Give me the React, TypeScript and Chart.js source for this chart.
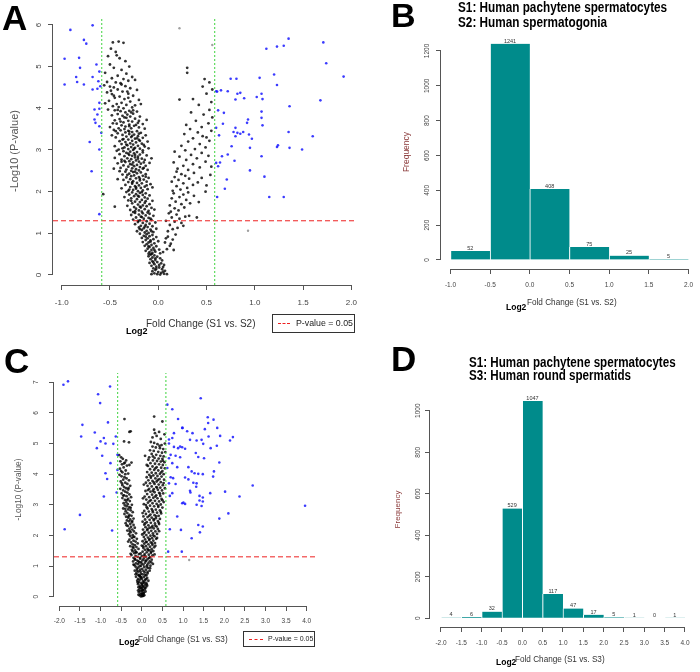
import React, { useEffect, useRef } from "react";
import { Chart, registerables } from "chart.js";
Chart.register(...registerables);

const FONT = '"Liberation Sans", Arial, Helvetica, sans-serif';
const AXIS = "#555555";
const TICK_COL = "#444444";
const TEAL = "#008b8b";
const SIG_BLUE = "rgba(25,25,255,0.85)";
const CORE_BLACK = "rgba(0,0,0,0.8)";
const FAINT = "rgba(120,120,120,0.7)";
const GREEN = "#3fd43f";
const RED = "#ee2020";

// thresholds: log2(1.5) and -log10(0.05)
const FC_CUT = 0.585;
const P_CUT = 1.301;

// ---------- Panel A : volcano S1 vs S2 ----------
const A_X_TICKS = [-1, -0.5, 0, 0.5, 1, 1.5, 2];
const A_Y_TICKS = [0, 1, 2, 3, 4, 5, 6];
const A_SIG: number[][] = [
  [-0.91,5.88],[-0.68,5.99],[-0.77,5.64],[-0.745,5.55],[-0.97,5.19],[-0.82,5.21],[-0.81,4.97],[-0.64,5.05],[-0.61,4.88],[-0.85,4.75],
  [-0.68,4.75],[-0.97,4.57],[-0.84,4.63],[-0.77,4.57],[-0.62,4.65],[-0.68,4.45],[-0.63,4.47],[-0.6,4.53],[-0.61,4.13],[-0.66,3.97],
  [-0.61,3.99],[-0.63,3.85],[-0.66,3.73],[-0.65,3.65],[-0.61,3.57],[-0.59,3.41],[-0.71,3.19],[-0.61,3.01],[-0.69,2.49],[-0.61,1.46],
  [1.35,5.67],[1.23,5.48],[1.3,5.5],[1.12,5.43],[1.71,5.58],[1.74,5.08],[1.92,4.76],[1.05,4.73],[1.2,4.81],[1.23,4.56],
  [0.75,4.71],[0.81,4.71],[0.6,4.41],[0.65,4.43],[0.72,4.41],[0.82,4.35],[0.85,4.37],[0.8,4.21],[0.89,4.24],[1.02,4.27],
  [1.07,4.35],[1.08,4.22],[1.36,4.05],[1.68,4.19],[0.68,3.89],[1.07,3.92],[0.92,3.65],[0.93,3.73],[1.07,3.77],[1.08,3.59],
  [0.67,3.63],[0.6,3.53],[0.8,3.53],[0.78,3.43],[0.82,3.41],[0.85,3.39],[0.88,3.43],[0.94,3.37],[0.97,3.27],[0.8,3.33],
  [0.63,3.35],[1.35,3.43],[1.6,3.33],[1.24,3.11],[1.23,3.07],[1.36,3.05],[1.49,3.01],[0.95,3.05],[0.76,3.09],[0.72,2.89],
  [0.66,2.85],[0.79,2.74],[1.07,2.85],[0.6,2.69],[0.64,2.7],[0.62,2.61],[0.95,2.51],[1.1,2.36],[0.71,2.29],[0.69,2.07],
  [1.15,1.87],[1.3,1.87],[0.61,1.87],[0.61,4.4],[0.62,3.95]
];
const A_FAINT: number[][] = [[0.22,5.92],[0.56,5.52],[0.93,1.06]];
const A_CORE: number[][] = [
  [-0.47,5.58],[-0.41,5.6],[-0.36,5.57],[-0.49,5.43],[-0.44,5.35],[-0.52,5.25],[-0.43,5.27],[-0.4,5.2],[-0.34,5.13],
  [-0.3,5.0],[-0.5,5.05],[-0.46,4.97],[-0.38,4.92],[-0.55,4.85],[-0.33,4.83],[-0.42,4.78],[-0.27,4.75],[-0.48,4.72],[-0.36,4.7],
  [-0.31,4.66],[-0.53,4.63],[-0.44,4.62],[-0.24,4.68],[-0.39,4.6],
  [-0.56,4.55],[-0.5,4.52],[-0.46,4.5],[-0.34,4.53],[-0.29,4.48],[-0.42,4.45],[-0.22,4.44],[-0.37,4.4],[-0.53,4.38],[-0.48,4.34],
  [-0.31,4.35],[-0.26,4.3],[-0.4,4.28],[-0.45,4.25],[-0.35,4.22],[-0.2,4.2],[-0.51,4.18],[-0.29,4.16],[-0.38,4.13],[-0.43,4.1],
  [-0.33,4.08],[-0.24,4.07],[-0.47,4.05],[-0.27,4.02],[-0.36,4.0],[-0.41,4.03],[-0.55,4.12],[-0.31,4.25],[-0.49,4.42],[-0.18,4.1],
  [-0.52,3.97],[-0.45,3.95],[-0.39,3.93],[-0.3,3.94],[-0.22,3.92],[-0.34,3.9],[-0.26,3.87],[-0.42,3.86],[-0.48,3.83],[-0.37,3.82],
  [-0.29,3.8],[-0.19,3.8],[-0.33,3.77],[-0.24,3.75],[-0.4,3.74],[-0.45,3.71],[-0.31,3.7],[-0.27,3.68],[-0.36,3.66],[-0.21,3.65],
  [-0.43,3.63],[-0.16,3.62],[-0.3,3.61],[-0.38,3.59],[-0.25,3.58],[-0.34,3.56],[-0.5,3.55],[-0.2,3.54],[-0.28,3.52],[-0.41,3.52],
  [-0.14,3.51],[-0.35,3.5],[-0.23,3.6],[-0.32,3.85],[-0.47,3.64],[-0.26,3.95],[-0.12,3.72],[-0.39,3.68],
  [-0.46,3.48],[-0.39,3.47],[-0.31,3.46],[-0.22,3.45],[-0.27,3.43],[-0.34,3.42],[-0.18,3.41],[-0.42,3.4],[-0.3,3.38],[-0.25,3.37],
  [-0.37,3.36],[-0.13,3.35],[-0.21,3.33],[-0.33,3.32],[-0.28,3.31],[-0.44,3.3],[-0.16,3.29],[-0.24,3.27],[-0.36,3.26],[-0.31,3.25],
  [-0.2,3.24],[-0.27,3.22],[-0.4,3.21],[-0.11,3.2],[-0.34,3.19],[-0.23,3.18],[-0.29,3.16],[-0.17,3.15],[-0.38,3.14],[-0.26,3.13],
  [-0.32,3.11],[-0.21,3.1],[-0.45,3.09],[-0.14,3.08],[-0.28,3.07],[-0.35,3.06],[-0.24,3.05],[-0.19,3.03],[-0.31,3.02],[-0.41,3.01],
  [-0.26,3.0],[-0.1,3.04],[-0.48,3.35],[-0.22,3.28],[-0.3,3.44],[-0.15,3.12],[-0.37,3.04],[-0.2,3.39],
  [-0.43,2.98],[-0.36,2.97],[-0.29,2.96],[-0.22,2.95],[-0.16,2.94],[-0.33,2.93],[-0.25,2.92],[-0.4,2.9],[-0.19,2.89],[-0.3,2.88],
  [-0.12,2.87],[-0.27,2.86],[-0.35,2.85],[-0.21,2.84],[-0.24,2.82],[-0.45,2.81],[-0.32,2.8],[-0.17,2.79],[-0.28,2.78],[-0.38,2.77],
  [-0.14,2.76],[-0.23,2.75],[-0.3,2.73],[-0.2,2.72],[-0.34,2.71],[-0.26,2.7],[-0.09,2.69],[-0.42,2.68],[-0.18,2.67],[-0.29,2.66],
  [-0.22,2.64],[-0.36,2.63],[-0.13,2.62],[-0.25,2.61],[-0.31,2.6],[-0.19,2.59],[-0.39,2.57],[-0.27,2.56],[-0.16,2.55],[-0.23,2.54],
  [-0.33,2.53],[-0.11,2.52],[-0.2,2.51],[-0.28,2.5],[-0.46,2.55],[-0.07,2.8],[-0.35,2.74],[-0.24,2.88],[-0.15,2.7],
  [-0.4,2.49],[-0.34,2.48],[-0.26,2.47],[-0.18,2.46],[-0.22,2.44],[-0.3,2.43],[-0.13,2.42],[-0.37,2.41],[-0.25,2.39],[-0.16,2.38],
  [-0.28,2.37],[-0.2,2.35],[-0.33,2.34],[-0.1,2.33],[-0.23,2.32],[-0.29,2.3],[-0.15,2.29],[-0.36,2.28],[-0.19,2.27],[-0.26,2.25],
  [-0.12,2.24],[-0.31,2.23],[-0.22,2.21],[-0.17,2.2],[-0.27,2.19],[-0.08,2.18],[-0.34,2.16],[-0.2,2.15],[-0.24,2.13],[-0.14,2.12],
  [-0.29,2.11],[-0.18,2.09],[-0.38,2.08],[-0.23,2.07],[-0.11,2.06],[-0.26,2.04],[-0.16,2.03],[-0.31,2.02],[-0.21,2.01],[-0.06,2.1],
  [-0.42,2.3],[-0.13,2.36],
  [-0.33,1.99],[-0.27,1.98],[-0.19,1.97],[-0.13,1.96],[-0.23,1.94],[-0.3,1.93],[-0.16,1.92],[-0.09,1.91],[-0.25,1.89],[-0.2,1.88],
  [-0.35,1.87],[-0.14,1.86],[-0.28,1.84],[-0.11,1.83],[-0.22,1.82],[-0.17,1.8],[-0.31,1.79],[-0.06,1.78],[-0.24,1.76],[-0.19,1.75],
  [-0.14,1.73],[-0.27,1.72],[-0.09,1.7],[-0.21,1.69],[-0.16,1.67],[-0.32,1.66],[-0.12,1.65],[-0.25,1.63],[-0.18,1.62],[-0.07,1.61],
  [-0.23,1.59],[-0.14,1.58],[-0.29,1.56],[-0.2,1.55],[-0.1,1.54],[-0.17,1.52],[-0.26,1.51],[-0.04,1.57],[-0.45,1.64],[-0.57,1.94],
  [-0.24,1.49],[-0.16,1.48],[-0.09,1.47],[-0.2,1.45],[-0.28,1.44],[-0.13,1.43],[-0.05,1.42],[-0.18,1.4],[-0.23,1.38],[-0.1,1.37],
  [-0.15,1.35],[-0.26,1.33],[-0.07,1.32],[-0.19,1.31],[-0.12,1.29],[-0.21,1.27],[-0.03,1.26],[-0.16,1.25],[-0.09,1.23],[-0.24,1.22],
  [-0.13,1.2],[-0.18,1.18],[-0.06,1.17],[-0.11,1.15],[-0.2,1.14],[-0.15,1.12],[-0.02,1.11],[-0.08,1.09],[-0.17,1.08],[-0.12,1.06],
  [-0.22,1.05],[-0.05,1.03],[-0.14,1.02],[-0.1,1.01],
  [-0.19,0.99],[-0.12,0.98],[-0.06,0.96],[-0.15,0.94],[-0.09,0.93],[-0.02,0.91],[-0.17,0.89],[-0.11,0.88],[-0.05,0.86],[-0.13,0.84],
  [-0.08,0.83],[0.0,0.81],[-0.16,0.79],[-0.1,0.78],[-0.04,0.76],[-0.12,0.74],[-0.07,0.72],[-0.14,0.7],[-0.02,0.69],[-0.09,0.67],
  [-0.05,0.65],[-0.11,0.63],[0.01,0.61],[-0.07,0.6],[-0.13,0.58],[-0.03,0.56],[-0.09,0.55],[-0.06,0.53],[-0.1,0.51],[0.02,0.52],
  [-0.08,0.49],[-0.04,0.47],[-0.1,0.45],[-0.01,0.44],[-0.06,0.42],[0.02,0.4],[-0.08,0.38],[-0.03,0.36],[0.04,0.35],[-0.06,0.33],
  [-0.01,0.31],[-0.09,0.29],[0.03,0.28],[-0.04,0.26],[0.06,0.24],[-0.07,0.22],[-0.02,0.2],[0.01,0.18],[-0.05,0.16],[0.04,0.14],
  [-0.03,0.12],[0.07,0.1],[-0.06,0.09],[0.0,0.07],[0.03,0.05],[-0.04,0.04],[0.06,0.03],[-0.01,0.02],[0.02,0.01],[-0.07,0.02],
  [0.09,0.02],[0.05,0.08],
  [-0.27,3.34],[-0.19,3.22],[-0.33,3.13],[-0.25,3.03],[-0.16,2.99],[-0.31,2.91],[-0.21,2.79],[-0.38,2.72],[-0.27,2.65],[-0.15,2.57],
  [-0.24,2.48],[-0.32,2.4],[-0.19,2.31],[-0.27,2.22],[-0.12,2.15],[-0.23,2.1],[-0.3,2.05],[-0.17,1.99],[-0.21,1.9],[-0.28,1.78],
  [-0.13,1.77],[-0.19,1.64],[-0.24,1.53],[-0.11,1.5],[-0.17,1.39],[-0.21,1.3],[-0.08,1.35],[-0.14,1.16],[-0.19,1.1],[-0.07,1.05],
  [-0.13,0.92],[-0.08,0.8],[-0.1,0.69],[-0.04,0.6],[-0.07,0.5],[-0.03,0.4],[-0.05,0.3],[0.01,0.24],[-0.02,0.15],[0.05,0.19],
  [-0.35,3.78],[-0.42,3.96],[-0.28,3.9],[-0.46,4.3],[-0.32,4.4],[-0.38,4.57],[-0.44,3.45],[-0.2,3.7],[-0.3,3.57],[-0.37,3.25],
  [0.05,0.55],[0.09,0.62],[0.12,0.7],[0.07,0.78],[0.15,0.85],[0.1,0.92],[0.18,0.97],[0.13,0.75],[0.08,0.88],[0.16,0.6],
  [0.1,1.05],[0.15,1.1],[0.2,1.13],[0.12,1.2],[0.24,1.25],[0.17,1.28],[0.08,1.3],[0.22,1.35],[0.14,1.38],[0.28,1.4],
  [0.19,1.45],[0.11,1.48],[0.26,1.18],[0.32,1.42],[0.4,1.38],
  [0.13,1.52],[0.21,1.55],[0.17,1.6],[0.27,1.62],[0.12,1.67],[0.24,1.7],[0.33,1.72],[0.18,1.76],[0.29,1.8],[0.14,1.84],
  [0.22,1.87],[0.37,1.9],[0.26,1.93],[0.16,1.96],[0.31,1.98],[0.42,1.75],[0.49,2.0],
  [0.15,2.02],[0.23,2.05],[0.3,2.09],[0.19,2.13],[0.36,2.16],[0.26,2.2],[0.14,2.24],[0.41,2.22],[0.21,2.28],[0.32,2.31],
  [0.17,2.35],[0.28,2.38],[0.45,2.33],[0.24,2.42],[0.37,2.45],[0.19,2.48],[0.5,2.15],[0.54,2.4],
  [0.31,2.52],[0.2,2.55],[0.43,2.58],[0.26,2.62],[0.36,2.66],[0.16,2.7],[0.49,2.72],[0.29,2.76],[0.4,2.8],[0.22,2.84],
  [0.34,2.88],[0.52,2.86],[0.45,2.93],[0.17,2.96],[0.28,2.99],[0.55,2.6],
  [0.38,3.02],[0.49,3.06],[0.24,3.1],[0.43,3.14],[0.31,3.2],[0.53,3.22],[0.36,3.28],[0.46,3.33],[0.27,3.38],[0.41,3.42],
  [0.55,3.46],[0.33,3.5],[0.5,3.3],
  [0.45,3.55],[0.29,3.6],[0.52,3.64],[0.39,3.7],[0.56,3.78],[0.47,3.85],[0.34,3.9],[0.53,3.96],
  [0.42,4.08],[0.55,4.15],[0.36,4.22],[0.5,4.35],[0.46,4.52],[0.53,4.62],[0.48,4.7],[0.56,4.45],[0.3,4.97],[0.3,4.85],[0.22,4.21]
];

// ---------- Panel B : histogram S1 vs S2 ----------
const B_BIN_START = [-1.0, -0.5, 0.0, 0.5, 1.0, 1.5];
const B_COUNTS = [52, 1241, 408, 75, 25, 5];
const B_X_TICKS = [-1, -0.5, 0, 0.5, 1, 1.5, 2];
const B_Y_TICKS = [0, 200, 400, 600, 800, 1000, 1200];

// ---------- Panel C : volcano S1 vs S3 ----------
const C_X_TICKS = [-2, -1.5, -1, -0.5, 0, 0.5, 1, 1.5, 2, 2.5, 3, 3.5, 4];
const C_Y_TICKS = [0, 1, 2, 3, 4, 5, 6, 7];
const C_SIG: number[][] = [
  [-1.9,6.92],[-1.79,7.03],[-1.06,6.61],[-1.01,6.32],[-0.77,6.86],[-1.44,5.61],[-0.82,5.69],[-1.14,5.36],[-1.47,5.23],[-0.92,5.18],
  [-1.0,5.07],[-1.09,4.85],[-0.63,5.23],[-0.69,4.99],[-0.88,5.0],[-0.59,4.63],[-0.96,4.6],[-0.76,4.36],[-0.88,4.03],[-0.59,4.14],
  [-0.61,3.4],[-0.92,3.27],[-0.72,2.16],[-1.87,2.2],[-1.5,2.67],[-0.84,3.84],
  [0.62,6.27],[0.74,6.12],[0.88,5.8],[0.98,5.51],[0.78,5.34],[0.66,5.13],[0.74,5.18],[0.66,5.0],[0.78,4.89],[0.88,4.85],
  [0.98,4.88],[0.7,4.63],[0.82,4.6],[0.93,4.55],[0.66,4.52],[0.74,4.36],[0.62,4.2],[0.86,4.23],[0.7,3.9],[0.76,3.87],
  [0.66,3.7],[0.82,3.68],[0.74,3.38],[0.68,3.29],[0.98,3.05],[0.86,2.62],[0.68,2.2],[0.95,2.18],[0.64,1.47],
  [1.43,6.48],[1.6,5.86],[1.61,5.67],[1.74,5.78],[0.99,5.51],[1.1,5.4],[1.23,5.34],[1.53,5.47],[1.83,5.51],[2.21,5.21],
  [2.14,5.1],[1.9,5.25],[1.62,5.23],[1.45,5.12],[1.49,4.99],[1.17,5.12],[1.33,5.1],[1.82,4.93],[1.67,4.85],[0.93,4.9],
  [1.05,4.83],[1.31,4.69],[1.37,4.56],[1.51,4.52],[1.88,4.38],[1.13,4.23],[1.21,4.09],[1.28,4.03],[1.37,4.01],[1.48,4.0],
  [1.75,4.09],[1.73,3.92],[1.05,3.89],[1.13,3.83],[1.25,3.72],[1.33,3.7],[1.32,3.59],[1.17,3.46],[1.18,3.4],[1.66,3.38],
  [2.02,3.43],[2.69,3.63],[2.37,3.27],[1.4,3.29],[1.48,3.24],[1.4,3.14],[1.48,3.11],[1.01,3.07],[1.05,3.03],[1.33,3.0],
  [1.45,2.96],[3.96,2.97],[2.1,2.72],[1.88,2.55],[1.37,2.34],[1.48,2.29],[1.41,2.1],[1.21,1.91],[0.97,1.47]
];
const C_FAINT: number[][] = [[1.15,1.2]];
const C_CORE: number[][] = [
  [-0.42,5.8],[-0.27,5.4],[-0.43,5.07],[-0.31,5.04],[-0.3,5.38],
  [-0.55,4.62],[-0.5,4.55],[-0.46,4.5],[-0.52,4.42],[-0.41,4.38],[-0.48,4.32],[-0.36,4.28],[-0.44,4.22],[-0.53,4.18],[-0.39,4.12],
  [-0.47,4.06],[-0.33,4.02],[-0.43,4.35],[-0.38,4.45],[-0.3,4.3],[-0.25,4.38],
  [-0.54,3.98],[-0.49,3.93],[-0.42,3.9],[-0.37,3.86],[-0.45,3.82],[-0.31,3.8],[-0.51,3.76],[-0.4,3.72],[-0.35,3.68],[-0.47,3.64],
  [-0.28,3.62],[-0.43,3.58],[-0.38,3.54],[-0.52,3.52],[-0.33,3.5],
  [-0.45,3.47],[-0.4,3.43],[-0.35,3.4],[-0.49,3.37],[-0.3,3.34],[-0.43,3.31],[-0.37,3.28],[-0.26,3.25],[-0.47,3.22],[-0.33,3.19],
  [-0.41,3.16],[-0.29,3.12],[-0.38,3.08],[-0.44,3.05],[-0.34,3.02],[-0.24,3.0],
  [-0.41,2.98],[-0.36,2.95],[-0.3,2.92],[-0.45,2.88],[-0.33,2.85],[-0.27,2.82],[-0.39,2.79],[-0.22,2.76],[-0.35,2.73],[-0.42,2.7],
  [-0.3,2.67],[-0.25,2.64],[-0.38,2.61],[-0.33,2.58],[-0.2,2.55],[-0.28,2.52],
  [-0.36,2.49],[-0.31,2.46],[-0.24,2.43],[-0.39,2.4],[-0.28,2.37],[-0.2,2.34],[-0.34,2.31],[-0.26,2.28],[-0.17,2.25],[-0.3,2.22],
  [-0.23,2.19],[-0.35,2.16],[-0.19,2.13],[-0.27,2.1],[-0.14,2.07],[-0.31,2.04],[-0.22,2.01],
  [-0.28,1.98],[-0.18,1.95],[-0.24,1.92],[-0.12,1.89],[-0.3,1.86],[-0.2,1.83],[-0.15,1.8],[-0.26,1.77],[-0.1,1.74],[-0.22,1.71],
  [-0.17,1.68],[-0.28,1.65],[-0.13,1.62],[-0.2,1.59],[-0.08,1.56],[-0.24,1.53],[-0.16,1.51],
  [-0.22,1.48],[-0.13,1.45],[-0.18,1.42],[-0.07,1.39],[-0.25,1.36],[-0.15,1.33],[-0.1,1.3],[-0.2,1.27],[-0.04,1.24],[-0.16,1.21],
  [-0.11,1.18],[-0.21,1.15],[-0.06,1.12],[-0.14,1.09],[-0.09,1.06],[-0.18,1.03],[-0.02,1.01],
  [-0.15,0.98],[-0.09,0.95],[-0.12,0.91],[-0.04,0.88],[-0.17,0.85],[-0.08,0.82],[-0.13,0.78],[-0.02,0.75],[-0.1,0.72],[-0.06,0.68],
  [-0.14,0.65],[-0.03,0.62],[-0.09,0.58],[-0.05,0.55],[-0.11,0.52],
  [-0.07,0.48],[-0.02,0.45],[-0.09,0.41],[0.0,0.38],[-0.05,0.35],[-0.08,0.31],[-0.01,0.28],[-0.06,0.24],[0.02,0.21],[-0.04,0.18],
  [-0.07,0.14],[0.0,0.11],[-0.03,0.08],[0.03,0.06],[-0.05,0.04],[0.01,0.02],[-0.02,0.01],[0.04,0.03],[-0.08,0.06],
  [-0.5,4.1],[-0.4,4.0],[-0.48,3.7],[-0.32,3.55],[-0.45,3.3],[-0.36,3.15],[-0.27,2.9],[-0.4,2.87],[-0.32,2.62],[-0.23,2.47],
  [-0.37,2.33],[-0.29,2.14],[-0.2,1.95],[-0.33,1.8],[-0.22,1.62],[-0.14,1.45],[-0.27,1.4],[-0.17,1.23],[-0.08,1.15],[-0.2,1.05],
  [-0.11,0.85],[-0.06,0.7],[-0.15,0.73],[-0.1,0.46],[-0.04,0.3],[-0.09,0.2],
  [0.3,5.88],[0.5,5.72],[0.3,5.45],[0.32,5.34],[0.26,5.2],[0.36,5.25],[0.46,5.15],[0.55,5.3],[0.42,5.38],
  [0.22,5.05],[0.3,5.02],[0.38,4.98],[0.48,4.95],[0.56,5.0],[0.26,4.9],[0.34,4.87],[0.44,4.85],[0.52,4.82],[0.2,4.78],
  [0.29,4.76],[0.4,4.73],[0.49,4.7],[0.57,4.72],[0.24,4.66],[0.35,4.63],[0.45,4.6],[0.53,4.58],[0.18,4.55],[0.31,4.53],
  [0.41,4.51],[0.5,4.5],
  [0.16,4.47],[0.27,4.45],[0.37,4.43],[0.46,4.41],[0.55,4.39],[0.21,4.36],[0.32,4.34],[0.42,4.32],[0.51,4.3],[0.15,4.27],
  [0.26,4.25],[0.36,4.23],[0.47,4.21],[0.56,4.19],[0.2,4.16],[0.3,4.14],[0.4,4.12],[0.5,4.1],[0.13,4.07],[0.24,4.05],
  [0.34,4.03],[0.44,4.01],[0.53,4.0],
  [0.18,3.98],[0.28,3.96],[0.38,3.94],[0.48,3.92],[0.12,3.9],[0.22,3.88],[0.33,3.86],[0.43,3.84],[0.54,3.82],[0.16,3.8],
  [0.26,3.78],[0.36,3.76],[0.46,3.74],[0.1,3.72],[0.2,3.7],[0.31,3.68],[0.41,3.66],[0.51,3.64],[0.14,3.62],[0.24,3.6],
  [0.35,3.58],[0.45,3.56],[0.56,3.54],[0.18,3.52],[0.29,3.51],
  [0.39,3.49],[0.49,3.47],[0.09,3.45],[0.21,3.43],[0.31,3.41],[0.42,3.39],[0.52,3.37],[0.13,3.35],[0.25,3.33],[0.35,3.31],
  [0.45,3.29],[0.07,3.27],[0.18,3.25],[0.28,3.23],[0.38,3.21],[0.48,3.19],[0.11,3.17],[0.22,3.15],[0.32,3.13],[0.42,3.11],
  [0.53,3.09],[0.15,3.07],[0.26,3.05],[0.36,3.03],[0.46,3.01],[0.05,3.02],
  [0.1,2.99],[0.2,2.97],[0.3,2.95],[0.4,2.93],[0.5,2.91],[0.14,2.88],[0.24,2.86],[0.34,2.84],[0.44,2.82],[0.06,2.8],
  [0.17,2.78],[0.27,2.76],[0.37,2.74],[0.47,2.72],[0.1,2.7],[0.21,2.68],[0.31,2.66],[0.41,2.64],[0.04,2.62],[0.14,2.6],
  [0.24,2.58],[0.34,2.56],[0.44,2.54],[0.08,2.52],[0.19,2.51],
  [0.29,2.49],[0.39,2.47],[0.02,2.45],[0.12,2.43],[0.22,2.41],[0.32,2.39],[0.42,2.37],[0.06,2.35],[0.16,2.33],[0.26,2.31],
  [0.36,2.29],[0.09,2.27],[0.19,2.25],[0.29,2.23],[0.39,2.21],[0.03,2.19],[0.13,2.17],[0.23,2.15],[0.33,2.13],[0.07,2.11],
  [0.17,2.09],[0.27,2.07],[0.37,2.05],[0.01,2.03],[0.11,2.01],
  [0.21,1.99],[0.31,1.97],[0.05,1.95],[0.15,1.93],[0.25,1.91],[0.35,1.89],[0.08,1.87],[0.18,1.85],[0.28,1.83],[0.02,1.81],
  [0.12,1.79],[0.22,1.77],[0.32,1.75],[0.06,1.73],[0.16,1.71],[0.26,1.69],[0.0,1.67],[0.1,1.65],[0.2,1.63],[0.3,1.61],
  [0.04,1.59],[0.14,1.57],[0.24,1.55],[0.08,1.53],[0.18,1.51],
  [0.28,1.49],[0.02,1.47],[0.12,1.45],[0.22,1.43],[-0.03,1.41],[0.07,1.39],[0.17,1.37],[0.26,1.35],[0.0,1.33],[0.1,1.31],
  [0.2,1.29],[-0.04,1.27],[0.05,1.25],[0.14,1.23],[0.24,1.21],[0.02,1.19],[0.11,1.17],[0.19,1.15],[-0.02,1.13],[0.08,1.11],
  [0.16,1.09],[0.27,1.07],[0.04,1.05],[0.13,1.03],[0.21,1.01],
  [-0.05,0.99],[0.06,0.97],[0.15,0.94],[0.01,0.91],[0.1,0.88],[0.19,0.85],[-0.03,0.82],[0.07,0.79],[0.14,0.76],[0.02,0.73],
  [0.11,0.7],[-0.04,0.67],[0.05,0.64],[0.13,0.61],[0.0,0.58],[0.08,0.55],[0.16,0.52],[0.03,0.51],
  [0.06,0.48],[0.11,0.45],[0.01,0.42],[0.08,0.39],[0.13,0.36],[0.04,0.33],[0.1,0.3],[0.0,0.27],[0.07,0.24],[0.03,0.21],
  [0.09,0.17],[0.05,0.13],[0.01,0.09],[0.06,0.05],[0.02,0.03],
  [0.08,4.6],[0.43,4.92],[0.27,4.58],[0.51,4.44],[0.33,4.19],[0.12,4.3],[0.47,4.06],[0.22,3.93],[0.39,3.81],[0.05,3.66],
  [0.29,3.73],[0.53,3.71],[0.15,3.48],[0.37,3.56],[0.44,3.36],[0.27,3.45],[0.03,3.21],[0.33,3.27],[0.19,3.12],[0.5,3.15],
  [0.4,2.97],[0.12,2.92],[0.26,2.81],[0.46,2.77],[0.35,2.62],[0.02,2.73],[0.18,2.64],[0.29,2.53],[0.41,2.42],[0.08,2.39],
  [0.24,2.26],[0.33,2.32],[0.14,2.21],[0.42,2.14],[0.05,2.07],[0.28,2.0],[0.19,1.88],[0.37,1.92],[0.1,1.78],[0.25,1.74],
  [0.33,1.66],[0.03,1.64],[0.15,1.52],[0.23,1.47],[0.31,1.38],[0.06,1.34],[0.18,1.26],[0.09,1.18],[0.23,1.12],[0.0,1.08],
  [0.12,0.98],[0.2,0.93],[0.04,0.84],[0.14,0.81],[0.08,0.7],[-0.01,0.63],[0.1,0.57],[0.04,0.45],[0.12,0.4],[0.02,0.34],
  [0.07,0.29],[0.0,0.19],[0.04,0.11]
];

// ---------- Panel D : histogram S1 vs S3 ----------
const D_BIN_START = [-2.0, -1.5, -1.0, -0.5, 0.0, 0.5, 1.0, 1.5, 2.0, 2.5, 3.0, 3.5];
const D_COUNTS = [4, 6, 32, 529, 1047, 117, 47, 17, 5, 1, 0, 1];
const D_X_TICKS = [-2, -1.5, -1, -0.5, 0, 0.5, 1, 1.5, 2, 2.5, 3, 3.5, 4];
const D_Y_TICKS = [0, 200, 400, 600, 800, 1000];

const BIN_WIDTH = 0.5;

// ---------- plugins ----------
const rAxisPlugin = {
  id: "rAxis",
  afterDraw(chart: any) {
    const { ctx, chartArea, scales } = chart;
    const xs = scales.x, ys = scales.y;
    const xt = xs.ticks, yt = ys.ticks;
    ctx.save();
    ctx.strokeStyle = AXIS;
    ctx.lineWidth = 1;
    ctx.beginPath();
    const yb = Math.round(chartArea.bottom) + 0.5;
    ctx.moveTo(xs.getPixelForValue(xt[0].value), yb);
    ctx.lineTo(xs.getPixelForValue(xt[xt.length - 1].value), yb);
    const xl = Math.round(chartArea.left) - 0.5;
    ctx.moveTo(xl, ys.getPixelForValue(yt[0].value));
    ctx.lineTo(xl, ys.getPixelForValue(yt[yt.length - 1].value));
    ctx.stroke();
    ctx.restore();
  },
};

const countLabelPlugin = {
  id: "countLabels",
  afterDatasetsDraw(chart: any) {
    const meta = chart.getDatasetMeta(0);
    const data = chart.data.datasets[0].data;
    const ctx = chart.ctx;
    ctx.save();
    ctx.font = `5.5px ${FONT}`;
    ctx.fillStyle = "#333";
    ctx.textAlign = "center";
    ctx.textBaseline = "alphabetic";
    meta.data.forEach((el: any, i: number) => {
      ctx.fillText(String(data[i].y), el.x, el.y - 1.2);
    });
    ctx.restore();
  },
};

// ---------- scale builders ----------
function xScale(min: number, max: number, ticks: number[], size: number, height: number, pad: number) {
  return {
    type: "linear", position: "bottom", min, max, offset: false,
    afterBuildTicks: (s: any) => { s.ticks = ticks.map((v) => ({ value: v })); },
    afterFit: (s: any) => { s.height = height; },
    grid: { display: true, drawOnChartArea: false, drawTicks: true, tickLength: 5, color: AXIS, lineWidth: 1, offset: false },
    border: { display: false },
    ticks: {
      color: TICK_COL, font: { family: FONT, size }, padding: pad, autoSkip: false,
      minRotation: 0, maxRotation: 0, callback: (v: any) => Number(v).toFixed(1),
    },
  };
}
function yScale(min: number, max: number, ticks: number[], size: number, width: number, pad: number,
  title: string, tColor: string, tSize: number, tPad: number) {
  return {
    type: "linear", position: "left", min, max,
    afterBuildTicks: (s: any) => { s.ticks = ticks.map((v) => ({ value: v })); },
    afterFit: (s: any) => { s.width = width; },
    grid: { display: true, drawOnChartArea: false, drawTicks: true, tickLength: 5, color: AXIS, lineWidth: 1 },
    border: { display: false },
    ticks: {
      color: TICK_COL, font: { family: FONT, size }, padding: pad, autoSkip: false,
      minRotation: 90, maxRotation: 90, crossAlign: "center", callback: (v: any) => String(v),
    },
    title: { display: true, text: title, color: tColor, font: { family: FONT, size: tSize }, padding: { top: tPad, bottom: 0 } },
  };
}

const baseOptions = {
  animation: false, responsive: false, maintainAspectRatio: false,
  plugins: { legend: { display: false }, tooltip: { enabled: false } },
};

function pts(a: number[][], color: string, r: number) {
  return { data: a.map(([x, y]) => ({ x, y })), backgroundColor: color, borderWidth: 0, pointRadius: r, pointHoverRadius: r };
}
function seg(data: any[], color: string, dash: number[]) {
  return { data, showLine: true, borderColor: color, borderWidth: 1, borderDash: dash, pointRadius: 0, fill: false, backgroundColor: color };
}

function volcano(p: any) {
  const [x0, x1] = p.xr, [y0, y1] = p.yr;
  return {
    type: "scatter",
    data: {
      datasets: [
        seg([{ x: -FC_CUT, y: y0 }, { x: -FC_CUT, y: y1 }], GREEN, [2, 2]),
        seg([{ x: FC_CUT, y: y0 }, { x: FC_CUT, y: y1 }], GREEN, [2, 2]),
        seg([{ x: x0, y: P_CUT }, { x: x1, y: P_CUT }], RED, [5, 3]),
        pts(p.sig, SIG_BLUE, 1.3),
        pts(p.faint, FAINT, 1.2),
        pts(p.core, CORE_BLACK, 1.4),
      ],
    },
    options: {
      ...baseOptions,
      layout: { padding: p.padding },
      scales: {
        x: xScale(x0, x1, p.xt, p.tickSize, p.xH, p.xPad),
        y: yScale(y0, y1, p.yt, p.tickSize, p.yW, p.yPad, "-Log10 (P-value)", "#555", p.tSize, p.tPad),
      },
    },
    plugins: [rAxisPlugin],
  };
}

function hist(p: any) {
  const [x0, x1] = p.xr, [y0, y1] = p.yr;
  return {
    type: "bar",
    data: {
      datasets: [{
        data: p.starts.map((s: number, i: number) => ({ x: s + BIN_WIDTH / 2, y: p.counts[i] })),
        backgroundColor: TEAL, borderColor: "#ffffff",
        borderWidth: { left: 1, right: 0, top: 0, bottom: 0 }, borderSkipped: false,
        barPercentage: 1, categoryPercentage: 1,
      }],
    },
    options: {
      ...baseOptions,
      layout: { padding: p.padding },
      scales: {
        x: xScale(x0, x1, p.xt, p.tickSize, p.xH, p.xPad),
        y: yScale(y0, y1, p.yt, p.tickSize, p.yW, p.yPad, "Frequency", "#8b3a3a", p.tSize, p.tPad),
      },
    },
    plugins: [rAxisPlugin, countLabelPlugin],
  };
}

function ChartBox({ left, top, width, height, make }: any) {
  const ref = useRef<HTMLCanvasElement>(null);
  useEffect(() => {
    const chart = new Chart(ref.current as HTMLCanvasElement, make());
    return () => chart.destroy();
  }, []);
  return (
    <canvas ref={ref} width={width} height={height}
      style={{ position: "absolute", left, top, width, height }} />
  );
}

function Txt({ x, cy, size, bold, color, sx, children }: any) {
  return (
    <div style={{
      position: "absolute", left: x, top: cy - size * 0.488, fontSize: size, lineHeight: `${size}px`,
      fontWeight: bold ? 700 : 400, color: color || "#000", whiteSpace: "nowrap", fontFamily: FONT,
      transform: sx ? `scaleX(${sx})` : undefined, transformOrigin: "left center",
    }}>{children}</div>
  );
}

function Legend({ left, top, w, h, size, dashW, dashX, textX }: any) {
  return (
    <div style={{ position: "absolute", left, top, width: w, height: h, border: "1px solid #333", boxSizing: "border-box", background: "#fff" }}>
      <div style={{
        position: "absolute", left: dashX, top: h / 2 - 1.5, width: dashW, height: 0,
        borderTop: `1px dashed ${RED}`,
      }} />
      <div style={{
        position: "absolute", left: textX, top: h / 2 - 1 - size * 0.55, fontSize: size, lineHeight: `${size}px`,
        fontFamily: FONT, color: "#222", whiteSpace: "nowrap",
      }}>P-value = 0.05</div>
    </div>
  );
}

export default function App() {
  return (
    <div style={{ position: "fixed", left: 0, top: 0, width: 700, height: 672, background: "#fff", overflow: "hidden", fontFamily: FONT }}>
      <ChartBox left={0} top={0} width={365} height={315} make={() => volcano({
        core: A_CORE, sig: A_SIG, faint: A_FAINT, xr: [-1.09, 2.035], yr: [-0.24, 6.19], xt: A_X_TICKS, yt: A_Y_TICKS,
        tickSize: 8, xH: 30, xPad: 8, yW: 53, yPad: 6.5, tSize: 11, tPad: 8.4,
        padding: { left: 0, top: 17, right: 10, bottom: 0 },
      })} />
      <ChartBox left={380} top={0} width={320} height={300} make={() => hist({
        starts: B_BIN_START, counts: B_COUNTS, xr: [-1.12, 2.074], yr: [-51.7, 1291.8], xt: B_X_TICKS, yt: B_Y_TICKS,
        tickSize: 6.5, xH: 31, xPad: 7, yW: 61, yPad: 1.5, tSize: 8.5, tPad: 21.9,
        padding: { left: 0, top: 35, right: 0, bottom: 0 },
      })} />
      <ChartBox left={0} top={330} width={330} height={310} make={() => volcano({
        core: C_CORE, sig: C_SIG, faint: C_FAINT, xr: [-2.129, 4.201], yr: [-0.304, 7.303], xt: C_X_TICKS, yt: C_Y_TICKS,
        tickSize: 6.5, xH: 34, xPad: 6, yW: 54, yPad: 10.5, tSize: 8.3, tPad: 13.3,
        padding: { left: 0, top: 43, right: 15, bottom: 0 },
      })} />
      <ChartBox left={380} top={330} width={320} height={335} make={() => hist({
        starts: D_BIN_START, counts: D_COUNTS, xr: [-2.27, 4.246], yr: [-41.9, 1090], xt: D_X_TICKS, yt: D_Y_TICKS,
        tickSize: 6.5, xH: 38, xPad: 7, yW: 50, yPad: -0.5, tSize: 8, tPad: 13.2,
        padding: { left: 0, top: 62, right: 5, bottom: 0 },
      })} />

      {/* panel letters */}
      <Txt x={2} cy={17.5} size={35} bold>A</Txt>
      <Txt x={391} cy={15} size={34} bold>B</Txt>
      <Txt x={4} cy={360.5} size={35} bold>C</Txt>
      <Txt x={391} cy={358.3} size={35} bold>D</Txt>

      {/* headings */}
      <Txt x={458} cy={6.7} size={14} bold sx={0.84}>S1: Human pachytene spermatocytes</Txt>
      <Txt x={458} cy={21.7} size={14} bold sx={0.84}>S2: Human spermatogonia</Txt>
      <Txt x={469} cy={361.5} size={14} bold sx={0.83}>S1: Human pachytene spermatocytes</Txt>
      <Txt x={469} cy={375} size={14} bold sx={0.83}>S3: Human round spermatids</Txt>

      {/* x-axis titles */}
      <Txt x={126} cy={331} size={9} bold>Log2</Txt>
      <Txt x={146} cy={324} size={10} color="#333">Fold Change (S1 vs. S2)</Txt>
      <Txt x={506} cy={307.5} size={8.5} bold>Log2</Txt>
      <Txt x={527} cy={303} size={8.2} color="#333">Fold Change (S1 vs. S2)</Txt>
      <Txt x={119} cy={642.5} size={8.5} bold>Log2</Txt>
      <Txt x={138} cy={640} size={8.2} color="#333">Fold Change (S1 vs. S3)</Txt>
      <Txt x={496} cy={662.5} size={8.5} bold>Log2</Txt>
      <Txt x={515} cy={660} size={8.2} color="#333">Fold Change (S1 vs. S3)</Txt>

      {/* legends */}
      <Legend left={272} top={314} w={83} h={19} size={8.8} dashX={5} dashW={12} textX={23} />
      <Legend left={243} top={631} w={72} h={16} size={7} dashX={5} dashW={14} textX={24} />
    </div>
  );
}
